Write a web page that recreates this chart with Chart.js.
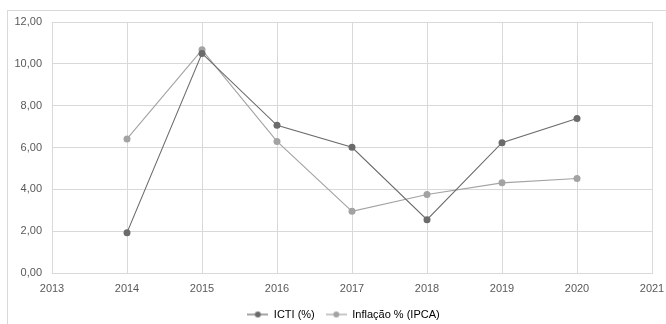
<!DOCTYPE html>
<html>
<head>
<meta charset="utf-8">
<script src="https://cdn.jsdelivr.net/npm/chart.js@4/dist/chart.umd.min.js"></script>
<style>
html,body{margin:0;padding:0;background:#fff;overflow:hidden;}
#wrap{position:absolute;left:0;top:0;width:666px;height:324px;}
#frame{position:absolute;left:7px;top:10px;width:660px;height:320px;border:1px solid #d9d9d9;box-sizing:border-box;}
canvas{position:absolute;left:0;top:0;}
</style>
</head>
<body>
<div id="wrap">
<div id="frame"></div>
<canvas id="c" width="666" height="324"></canvas>
</div>
<script>
const years = [2014, 2015, 2016, 2017, 2018, 2019, 2020];
const icti = [1.93, 10.50, 7.06, 6.01, 2.55, 6.23, 7.39];
const ipca = [6.41, 10.67, 6.29, 2.95, 3.75, 4.31, 4.52];
const seriesNames = ['ICTI (%)', 'Inflação % (IPCA)'];
const xMin = 2013, xMax = 2021;

const FONT = 'Liberation Sans, Arial, sans-serif';
const colICTI = '#6b6b6b';
const colIPCA = '#a3a3a3';

function legendIcon(color){
  const cv = document.createElement('canvas');
  cv.width = 21; cv.height = 8;
  const g = cv.getContext('2d');
  g.strokeStyle = color; g.lineWidth = 1.2;
  g.beginPath(); g.moveTo(0,4); g.lineTo(21,4); g.stroke();
  g.fillStyle = color;
  g.beginPath(); g.arc(10.5,4,3,0,Math.PI*2); g.fill();
  return cv;
}

const toPts = arr => years.map((y,i)=>({x:y, y:arr[i]}));

const legendShift = {
  id: 'legendShift',
  afterLayout(chart){
    const L = chart.legend;
    if (!L) return;
    L.left += 14; L.right += 14;
  }
};

new Chart(document.getElementById('c'), {
  type: 'line',
  data: {
    datasets: [
      {label: seriesNames[0], data: toPts(icti), borderColor: colICTI, backgroundColor: colICTI,
       borderWidth: 1.1, pointRadius: 3.5, pointBackgroundColor: colICTI, pointBorderWidth: 0, tension: 0,
       pointStyle: 'circle'},
      {label: seriesNames[1], data: toPts(ipca), borderColor: colIPCA, backgroundColor: colIPCA,
       borderWidth: 1.1, pointRadius: 3.5, pointBackgroundColor: colIPCA, pointBorderWidth: 0, tension: 0,
       pointStyle: 'circle'}
    ]
  },
  options: {
    responsive: false,
    animation: false,
    devicePixelRatio: 1,
    layout: {padding: {left: 7, right: 14, top: 22, bottom: -6}},
    scales: {
      x: {
        type: 'linear', min: xMin, max: xMax,
        ticks: {stepSize: 1, color: '#595959', font: {family: FONT, size: 11}, padding: 9,
                callback: v => String(v)},
        grid: {color: '#d9d9d9', lineWidth: 1, drawTicks: false},
        border: {color: '#d9d9d9'},
        afterFit: s => { s.height = 25; s.paddingLeft = 0; s.paddingRight = 0; }
      },
      y: {
        min: 0, max: 12,
        ticks: {stepSize: 2, color: '#595959', font: {family: FONT, size: 11}, padding: 10,
                callback: v => v.toFixed(2).replace('.', ',')},
        grid: {color: '#d9d9d9', lineWidth: 1, drawTicks: false},
        border: {color: '#d9d9d9'},
        afterFit: s => { s.width = 45; s.paddingTop = 0; s.paddingBottom = 0; }
      }
    },
    plugins: {
      legend: {
        position: 'bottom',
        labels: {
          usePointStyle: true,
          pointStyleWidth: 21,
          color: '#595959',
          font: {family: FONT, size: 11},
          padding: 11,
          generateLabels: chart => chart.data.datasets.map((d,i)=>({
            text: d.label, fillStyle: d.borderColor, strokeStyle: d.borderColor,
            pointStyle: legendIcon(d.borderColor), datasetIndex: i, hidden: false, lineWidth: 0
          }))
        }
      },
      tooltip: {enabled: false}
    }
  },
  plugins: [legendShift]
});
</script>
</body>
</html>
